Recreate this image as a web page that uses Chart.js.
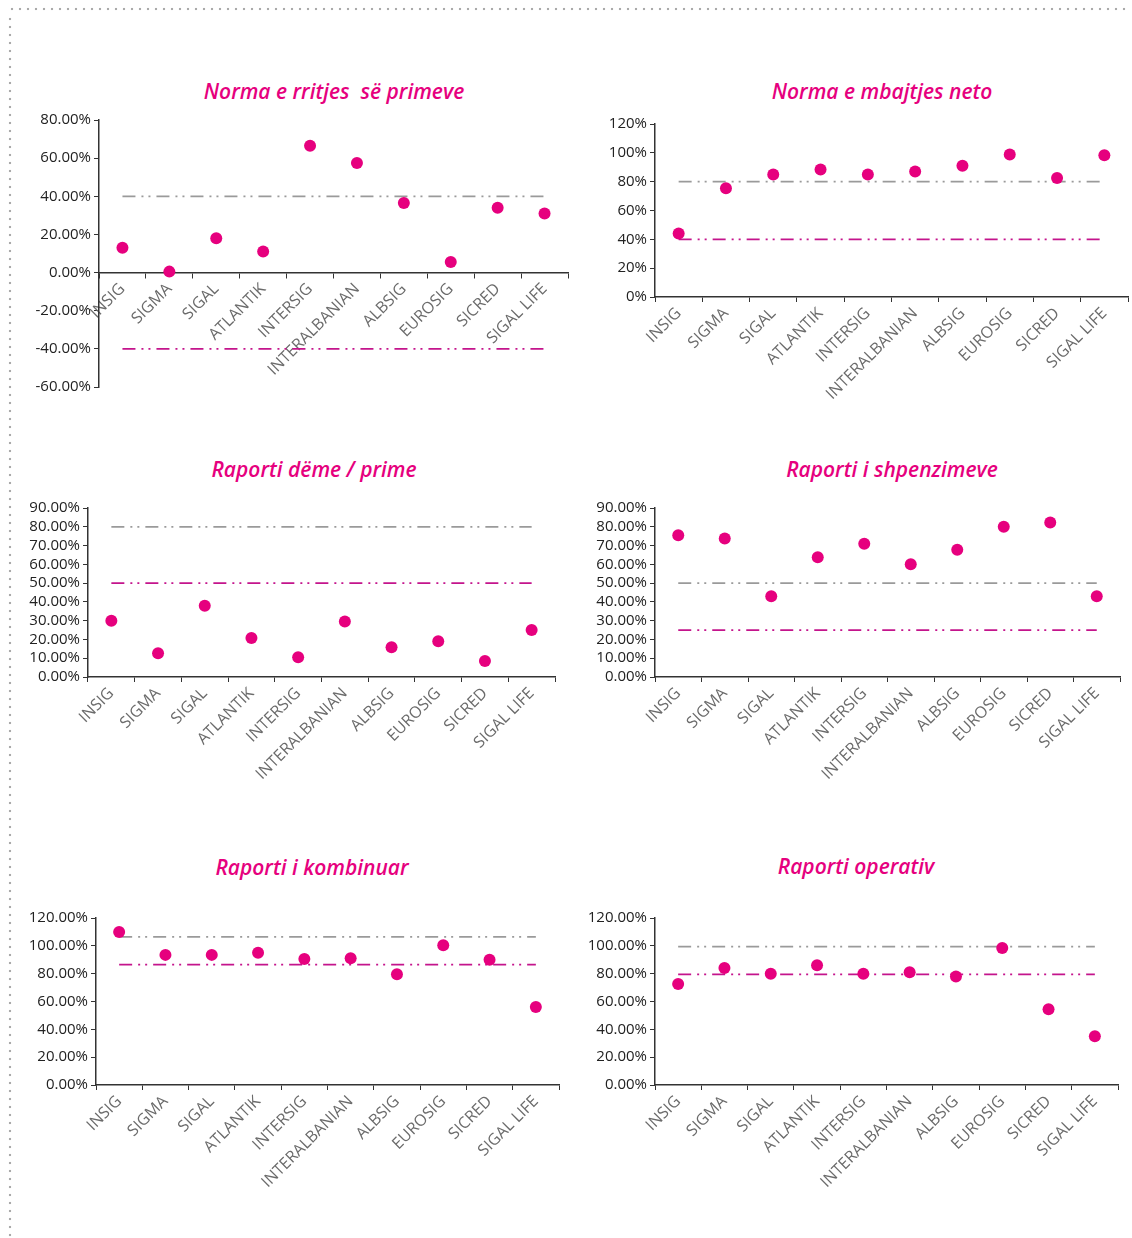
<!DOCTYPE html>
<html lang="sq">
<head>
<meta charset="UTF-8">
<title>Treguesit e tregut</title>
<script src="https://cdn.jsdelivr.net/npm/chart.js"></script>
<style>
body {
    margin: 0;
    background: #fff;
    font-family: 'Open Sans', sans-serif;
}
.page {
    position: relative;
    width: 1132px;
    height: 1238px;
    overflow: hidden;
}
/* dotted frame, top and left */
.dots-top {
    position: absolute;
    left: 8px;
    top: 7px;
    width: 1120px;
    height: 4px;
    background: radial-gradient(circle, #aaa 1.1px, transparent 1.6px) repeat-x;
    background-size: 8px 4px;
}
.dots-left {
    position: absolute;
    left: 8px;
    top: 15px;
    width: 4px;
    height: 1230px;
    background: radial-gradient(circle, #aaa 1.1px, transparent 1.6px) repeat-y;
    background-size: 4px 8px;
}
.title {
    position: absolute;
    transform: translate(-50%, -50%);
    white-space: pre;
    color: #e6007e;
    font-weight: 600;
    font-style: italic;
    font-size: 21px;
}
.box {
    position: absolute;
}
</style>
</head>
<body>
<div class="page">
    <div class="dots-top"></div>
    <div class="dots-left"></div>

    <div class="title" style="left:334px; top:91px;">Norma e rritjes  së primeve</div>
    <div class="title" style="left:882px; top:91px;">Norma e mbajtjes neto</div>
    <div class="title" style="left:314px; top:469px;">Raporti dëme / prime</div>
    <div class="title" style="left:892px; top:469px;">Raporti i shpenzimeve</div>
    <div class="title" style="left:312px; top:867px;">Raporti i kombinuar</div>
    <div class="title" style="left:856px; top:866px;">Raporti operativ</div>

    <div class="box" id="b1"><canvas id="c1"></canvas></div>
    <div class="box" id="b2"><canvas id="c2"></canvas></div>
    <div class="box" id="b3"><canvas id="c3"></canvas></div>
    <div class="box" id="b4"><canvas id="c4"></canvas></div>
    <div class="box" id="b5"><canvas id="c5"></canvas></div>
    <div class="box" id="b6"><canvas id="c6"></canvas></div>
</div>

<script>
// companies
const companies = ['INSIG', 'SIGMA', 'SIGAL', 'ATLANTIK', 'INTERSIG', 'INTERALBANIAN',
                   'ALBSIG', 'EUROSIG', 'SICRED', 'SIGAL LIFE'];

// values in %
const premiumGrowth = [13, 0.5, 18, 11, 66.5, 57.5, 36.5, 5.5, 34, 31];
const premiumGrowthLimits = [40, -40];

const netRetention = [44, 75.5, 85, 88.5, 85, 87, 91, 98.8, 82.5, 98.3];
const netRetentionLimits = [80, 40];

const lossRatio = [30, 12.6, 38, 20.8, 10.5, 29.5, 15.8, 19, 8.5, 25];
const lossRatioLimits = [80, 50];

const expenseRatio = [75.5, 73.8, 43, 63.8, 71, 60, 67.8, 80, 82.3, 43];
const expenseRatioLimits = [50, 25];

const combinedRatio = [110, 93.5, 93.5, 95, 90.5, 91, 79.5, 100.5, 90, 56];
const combinedRatioLimits = [106.5, 86.5];

const operatingRatio = [72.5, 84, 80, 86, 80, 81, 78, 98.5, 54.5, 35];
const operatingRatioLimits = [99.5, 79.5];

// y axis ranges: [min, max, step, decimals]
const range1 = [-60, 80, 20, 2];
const range2 = [0, 120, 20, 0];
const range3 = [0, 90, 10, 2];
const range4 = [0, 90, 10, 2];
const range5 = [0, 120, 20, 2];
const range6 = [0, 120, 20, 2];

const PINK = '#e6007e';
const GREY_LINE = '#9a9a9a';
const PINK_LINE = '#c4148c';
const DASH = [13, 6, 2, 5, 2, 6];

function place(id, L, R, T, B, xh, yw) {
    const el = document.getElementById(id);
    el.style.left = (L - yw) + 'px';
    el.style.top = (T - 10) + 'px';
    el.style.width = (R - L + yw + 6) + 'px';
    el.style.height = (B - T + 10 + xh) + 'px';
}

function makeChart(canvasId, values, limits, range, atZero, yw) {
    const flat = v => companies.map(() => v);
    const xAxis = {
        type: 'category',
        offset: true,
        grid: {
            offset: true,
            drawOnChartArea: false,
            drawTicks: true,
            tickLength: 5,
            color: '#333'
        },
        border: { display: true, color: '#333', width: 1.5 },
        ticks: {
            autoSkip: false,
            minRotation: 45,
            maxRotation: 45,
            padding: 2,
            color: '#6b6b6b',
            font: { family: 'Open Sans', size: 16 }
        }
    };
    if (atZero) {
        xAxis.position = { y: 0 };
    } else {
        xAxis.afterFit = s => { s.height = 110; };
    }

    return new Chart(document.getElementById(canvasId), {
        type: 'line',
        data: {
            labels: companies,
            datasets: [
                {
                    data: values,
                    showLine: false,
                    pointRadius: 6,
                    pointBackgroundColor: PINK,
                    pointBorderWidth: 0,
                    order: 0
                },
                {
                    data: flat(limits[0]),
                    borderColor: GREY_LINE,
                    borderWidth: 1.8,
                    borderDash: DASH,
                    pointRadius: 0,
                    order: 1
                },
                {
                    data: flat(limits[1]),
                    borderColor: PINK_LINE,
                    borderWidth: 1.8,
                    borderDash: DASH,
                    pointRadius: 0,
                    order: 2
                }
            ]
        },
        options: {
            responsive: true,
            maintainAspectRatio: false,
            animation: false,
            layout: { padding: { top: 10, right: 6, left: 0, bottom: atZero ? 10 : 0 } },
            plugins: {
                legend: { display: false },
                tooltip: { enabled: false }
            },
            scales: {
                x: xAxis,
                y: {
                    min: range[0],
                    max: range[1],
                    afterFit: s => { s.width = yw; },
                    grid: {
                        drawOnChartArea: false,
                        drawTicks: true,
                        tickLength: 5,
                        color: '#333'
                    },
                    border: { display: true, color: '#333', width: 1.5 },
                    ticks: {
                        stepSize: range[2],
                        autoSkip: false,
                        padding: 3,
                        color: '#222',
                        font: { family: 'Open Sans', size: 15 },
                        callback: v => v.toFixed(range[3]) + '%'
                    }
                }
            }
        }
    });
}

place('b1', 99, 568, 118, 386, 13, 66);
place('b2', 655, 1128, 122, 297, 110, 62);
place('b3', 88, 555, 506, 677, 110, 62);
place('b4', 655, 1120, 506, 677, 110, 62);
place('b5', 96, 559, 916, 1085, 110, 72);
place('b6', 655, 1118, 916, 1085, 110, 72);

makeChart('c1', premiumGrowth, premiumGrowthLimits, range1, true, 66);
makeChart('c2', netRetention, netRetentionLimits, range2, false, 62);
makeChart('c3', lossRatio, lossRatioLimits, range3, false, 62);
makeChart('c4', expenseRatio, expenseRatioLimits, range4, false, 62);
makeChart('c5', combinedRatio, combinedRatioLimits, range5, false, 72);
makeChart('c6', operatingRatio, operatingRatioLimits, range6, false, 72);
</script>
</body>
</html>
